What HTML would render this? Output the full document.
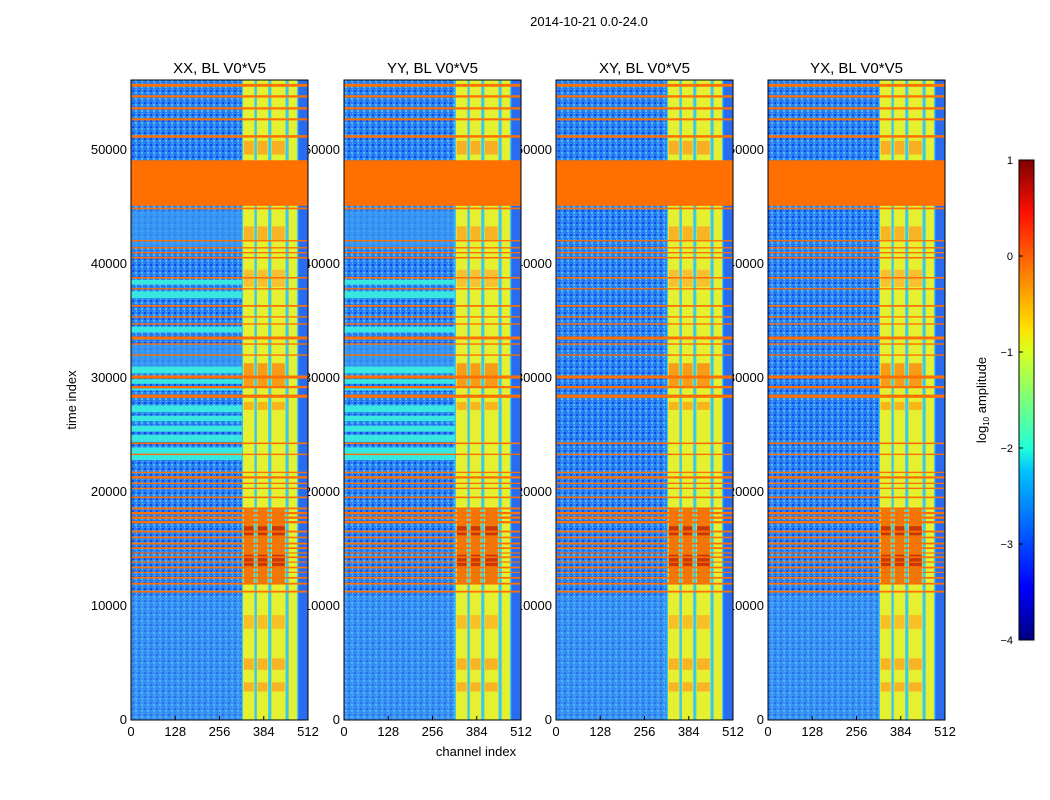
<!DOCTYPE html>
<html><head><meta charset="utf-8"><style>
body{margin:0;background:#fff;}
svg{display:block;font-family:"Liberation Sans",sans-serif;}
</style></head><body>
<svg id="c" width="1050" height="800" viewBox="0 0 1050 800" xmlns="http://www.w3.org/2000/svg">
<defs>
<linearGradient id="jet" x1="0" y1="1" x2="0" y2="0">
<stop offset="0" stop-color="#00007f"/><stop offset="0.11" stop-color="#0000ff"/>
<stop offset="0.35" stop-color="#00c0ff"/><stop offset="0.4" stop-color="#20ffd8"/>
<stop offset="0.6" stop-color="#d8ff20"/><stop offset="0.65" stop-color="#ffe000"/>
<stop offset="0.8" stop-color="#ff6000"/><stop offset="0.89" stop-color="#ff1000"/>
<stop offset="1" stop-color="#7f0000"/></linearGradient>
<pattern id="noise" width="6" height="6" patternUnits="userSpaceOnUse">
<rect width="6" height="6" fill="#2c80f2"/><rect x="0" y="0" width="2" height="2" fill="#1048f0"/>
<rect x="3" y="2" width="2" height="2" fill="#48c0f8"/><rect x="1" y="4" width="1" height="1" fill="#1a58f0"/>
<rect x="4" y="5" width="1" height="1" fill="#50d0f0"/></pattern>
</defs>
<text x="589" y="26" font-size="13" text-anchor="middle">2014-10-21 0.0-24.0</text>
<g id="labels"></g><g id="panels"></g>
<text transform="translate(76,400) rotate(-90)" font-size="13" text-anchor="middle">time index</text>
<text x="476" y="756" font-size="13" text-anchor="middle">channel index</text>
<g>
<rect x="1019" y="160" width="15" height="480" fill="url(#jet)" stroke="#000" stroke-width="1"/>
<g id="cbticks"></g>
<text transform="translate(986,400) rotate(-90)" font-size="13" text-anchor="middle">log<tspan font-size="8" dy="3">10</tspan><tspan dy="-3"> amplitude</tspan></text>
</g>
</svg>
<script>
const panelTitles=["XX, BL V0*V5","YY, BL V0*V5","XY, BL V0*V5","YX, BL V0*V5"];
const panelLefts=[131,344,556,768];
const yTicks=[0,10000,20000,30000,40000,50000];
const xTicks=[0,128,256,384,512];
const cbTicks=[1,0,-1,-2,-3,-4];
const rfiColumns=[[324,357],[364,397],[406,447],[456,480]];
const bigBlock=[45100,49100];
const orangeLines=[[55550,55800],[54600,54800],[53550,53750],[52600,52780],[51080,51300],[44800,44950],[41980,42100],[41360,41480],[40930,41050],[40480,40620],[38720,38860],[37760,37880],[36250,36400],[35300,35420],[34680,34800],[33380,33640],[32920,33040],[31950,32070],[29950,30220],[29100,29300],[28260,28540],[24200,24340],[23240,23360],[21660,21780],[21180,21380],[20700,20820],[20260,20380],[19460,19600],[18480,18640],[18050,18250],[17650,17850],[17250,17450],[16450,16610],[15940,16080],[15400,15560],[15000,15150],[14600,14700],[14200,14350],[13800,13900],[13300,13450],[12900,13000],[12400,12550],[11880,12040],[11180,11340]];
const cyanBands=[[22800,23900],[24400,25000],[25300,25800],[26200,26700],[27000,27600],[28900,29100],[29500,29900],[30400,31000],[34000,34500],[37000,37600],[38200,38600]];
const lightBands=[[41500,44700],[30900,33000]];
const hotPatches=[[2500,3300,"#ffa020"],[4400,5400,"#ffa020"],[8000,9200,"#ffb020"],[12000,18500,"#f05000"],[13500,14500,"#c02000"],[16200,17000,"#c02000"],[27200,27900,"#ffa010"],[29300,31300,"#ff8010"],[38000,39500,"#ffb030"],[42000,43300,"#ffa020"],[49600,50800,"#ff9a20"]];
const tMax=56140, y0=720, y1=80, W=177;
const NS="http://www.w3.org/2000/svg";
function yS(t){return y0-(t/tMax)*(y0-y1);}
function xS(p,ch){return panelLefts[p]+ch/512*W;}
function mk(tag,attrs,parent){const e=document.createElementNS(NS,tag);for(const k in attrs)e.setAttribute(k,attrs[k]);parent.appendChild(e);return e;}
const labels=document.getElementById('labels'), panels=document.getElementById('panels');
function rectT(g,p,c0,c1,t0,t1,fill){return mk('rect',{x:xS(p,c0),y:yS(t1),width:xS(p,c1)-xS(p,c0),height:Math.max(1,yS(t0)-yS(t1)),fill:fill},g);}
panelTitles.forEach((title,p)=>{
  const L=panelLefts[p];
  yTicks.forEach(v=>{const t=mk('text',{x:L-4,y:yS(v)+4,'font-size':13,'text-anchor':'end'},labels);t.textContent=v;
    
    });
  const g=mk('g',{},panels);
  
  
  mk('rect',{x:L,y:y1,width:W,height:y0-y1,fill:'url(#noise)'},g);
  if(p<2){
    lightBands.forEach(b=>rectT(g,p,0,512,b[0],b[1],'#3c9cf4').setAttribute('opacity',0.7));
    cyanBands.forEach(b=>rectT(g,p,0,324,b[0],b[1],'#38e8e0'));
  }
  rectT(g,p,0,324,0,11000,'#4aa8f4').setAttribute('opacity',0.4);
  rectT(g,p,320,512,0,tMax,'#38c8f0');
  rectT(g,p,484,512,0,tMax,'#2a6cf0');
  rfiColumns.forEach(c=>rectT(g,p,c[0],c[1],0,tMax,'#e4f030'));
  hotPatches.forEach(h=>rfiColumns.slice(0,3).forEach(c=>rectT(g,p,c[0]+2,c[1]-2,h[0],h[1],h[2]).setAttribute('opacity',0.75)));
  orangeLines.forEach(b=>rectT(g,p,0,512,b[0],b[1],'#ff7000'));
  rectT(g,p,0,512,bigBlock[0],bigBlock[1],'#ff7000');
  mk('rect',{x:L,y:y1,width:W,height:y0-y1,fill:'none',stroke:'#000','stroke-width':1},g);
  xTicks.forEach(v=>{const x=xS(p,v);
    mk('line',{x1:x,x2:x,y1:y0,y2:y0-4,stroke:'#000'},g);
    const t=mk('text',{x:x,y:y0+16,'font-size':13,'text-anchor':'middle'},g);t.textContent=v;
    
    });
  const tt=mk('text',{x:L+W/2,y:73,'font-size':15,'text-anchor':'middle'},g);tt.textContent=title;
  
  
});
const cb=document.getElementById('cbticks');
cbTicks.forEach(v=>{const y=160+(1-v)/5*480;
  mk('line',{x1:1019,x2:1023,y1:y,y2:y,stroke:'#000'},cb);
  const t=mk('text',{x:1013,y:y+4,'font-size':11,'text-anchor':'end'},cb);t.textContent=(v<0?'\u2212'+(-v):v);
  
  });
</script>
</body></html>
